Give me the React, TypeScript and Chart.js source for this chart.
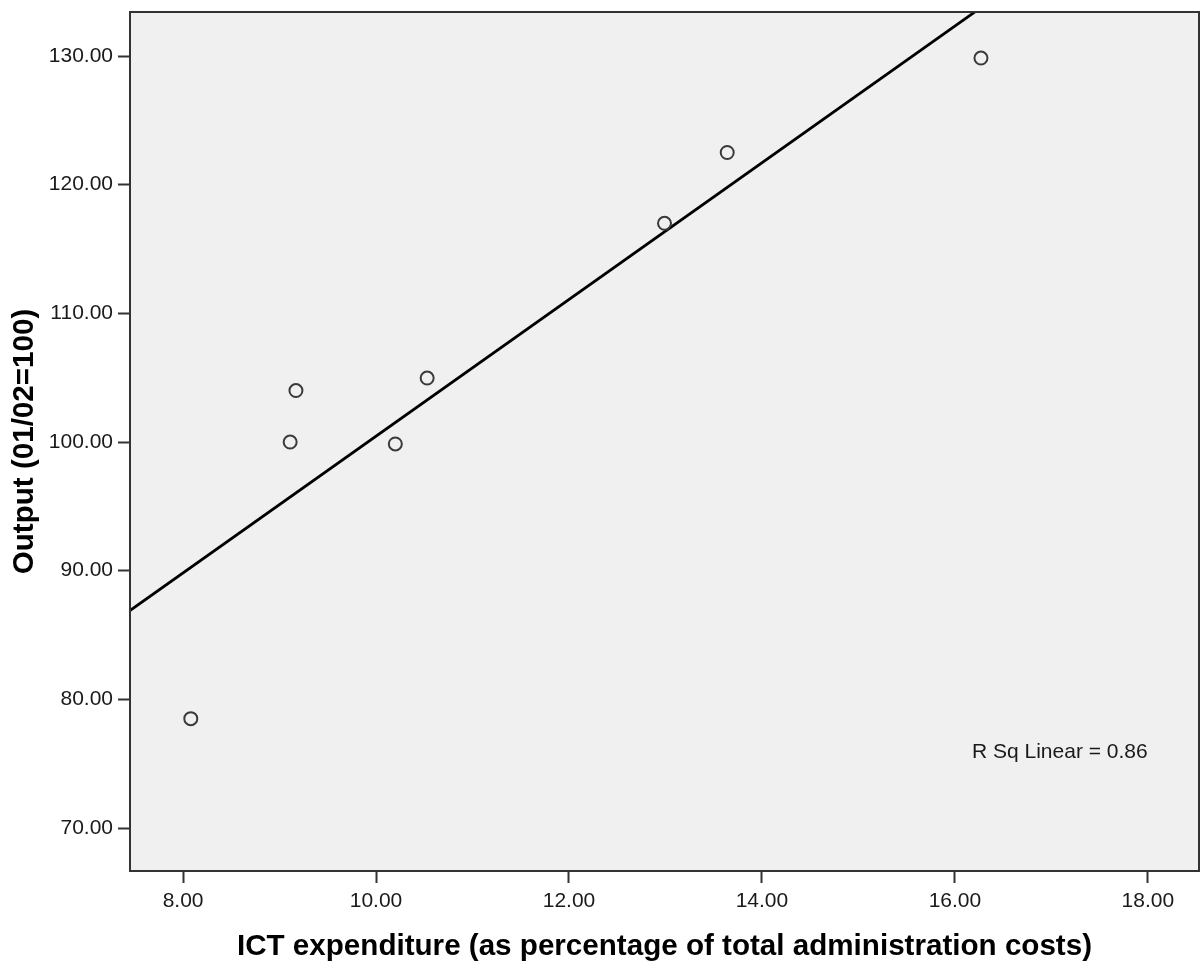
import React, { useEffect, useRef } from "react";
import { Chart, registerables } from "chart.js";

Chart.register(...registerables);

// ---- data ----
const ictExpenditure = [8.08, 9.11, 9.17, 10.2, 10.53, 12.99, 13.64, 16.27];
const outputIndex = [78.5, 100.0, 104.0, 99.85, 104.97, 117.0, 122.5, 129.84];
const fitLineX = [7.0, 17.0];
const fitLineY = [84.51, 137.64];
const xTickValues = [8, 10, 12, 14, 16, 18];
const yTickValues = [70, 80, 90, 100, 110, 120, 130];
const xAxisTitle = "ICT expenditure (as percentage of total administration costs)";
const yAxisTitle = "Output (01/02=100)";
const rSquaredLabel = "R Sq Linear = 0.86";

const FONT = "'Liberation Sans', Arial, Helvetica, sans-serif";

const plotFrame = {
  id: "plotFrame",
  beforeDraw(chart: any) {
    const { ctx, chartArea: a } = chart;
    ctx.save();
    ctx.fillStyle = "#f0f0f0";
    ctx.fillRect(a.left, a.top, a.right - a.left, a.bottom - a.top);
    ctx.restore();
  },
  afterDraw(chart: any) {
    const { ctx, chartArea: a } = chart;
    ctx.save();
    ctx.strokeStyle = "#333333";
    ctx.lineWidth = 2;
    ctx.strokeRect(a.left, a.top, a.right - a.left, a.bottom - a.top);
    ctx.fillStyle = "#1a1a1a";
    ctx.font = `21px ${FONT}`;
    ctx.textAlign = "left";
    ctx.textBaseline = "alphabetic";
    ctx.fillText(rSquaredLabel, a.right - 227, a.bottom - 113);
    ctx.restore();
  },
};

export default function App() {
  const canvasRef = useRef<HTMLCanvasElement | null>(null);

  useEffect(() => {
    if (!canvasRef.current) return;
    const chart = new Chart(canvasRef.current, {
      type: "scatter",
      data: {
        datasets: [
          {
            label: "Observed",
            data: ictExpenditure.map((x, i) => ({ x, y: outputIndex[i] })),
            showLine: false,
            pointRadius: 6.5,
            pointHoverRadius: 6.5,
            pointBorderWidth: 2,
            pointBorderColor: "#3a3a3a",
            pointBackgroundColor: "rgba(0,0,0,0)",
            order: 1,
          },
          {
            label: "Linear fit",
            data: fitLineX.map((x, i) => ({ x, y: fitLineY[i] })),
            showLine: true,
            borderColor: "#000000",
            borderWidth: 2.8,
            pointRadius: 0,
            clip: 0,
            order: 2,
          },
        ],
      },
      options: {
        responsive: false,
        maintainAspectRatio: false,
        animation: false,
        devicePixelRatio: 1,
        layout: { autoPadding: false, padding: { left: 0, top: 12, right: 1, bottom: 0 } },
        plugins: {
          legend: { display: false },
          tooltip: { enabled: false },
          title: { display: false },
        },
        scales: {
          x: {
            type: "linear",
            min: 7.45,
            max: 18.53,
            afterBuildTicks: (scale: any) => {
              scale.ticks = xTickValues.map((v) => ({ value: v }));
            },
            afterFit: (scale: any) => {
              scale.height = 91;
              scale.paddingLeft = 0;
              scale.paddingRight = 0;
            },
            grid: {
              display: true,
              drawOnChartArea: false,
              drawTicks: true,
              tickLength: 12,
              tickWidth: 2,
              tickColor: "#333333",
            },
            border: { display: false },
            ticks: {
              padding: 6,
              color: "#1a1a1a",
              font: { family: FONT, size: 21 },
              maxRotation: 0,
              callback: (v: any) => Number(v).toFixed(2),
            },
            title: {
              display: true,
              text: xAxisTitle,
              color: "#000000",
              font: { family: FONT, size: 29.6, weight: "bold", lineHeight: 1.0 },
              padding: { top: 0, bottom: 0.5 },
            },
          },
          y: {
            type: "linear",
            min: 66.66,
            max: 133.42,
            afterBuildTicks: (scale: any) => {
              scale.ticks = yTickValues.map((v) => ({ value: v }));
            },
            afterFit: (scale: any) => {
              scale.width = 130;
              scale.paddingTop = 0;
              scale.paddingBottom = 0;
            },
            grid: {
              display: true,
              drawOnChartArea: false,
              drawTicks: true,
              tickLength: 12,
              tickWidth: 2,
              tickColor: "#333333",
            },
            border: { display: false },
            ticks: {
              padding: 5,
              color: "#1a1a1a",
              font: { family: FONT, size: 21 },
              callback: (v: any) => Number(v).toFixed(2),
            },
            title: {
              display: true,
              text: yAxisTitle,
              color: "#000000",
              font: { family: FONT, size: 29.6, weight: "bold", lineHeight: 1.0 },
              padding: { top: 10.2, bottom: 0 },
            },
          },
        },
      },
      plugins: [plotFrame],
    });
    return () => chart.destroy();
  }, []);

  return (
    <div style={{ position: "absolute", left: 0, top: 0, width: 1200, height: 962, background: "#ffffff" }}>
      <canvas ref={canvasRef} width={1200} height={962} style={{ display: "block" }} />
    </div>
  );
}
